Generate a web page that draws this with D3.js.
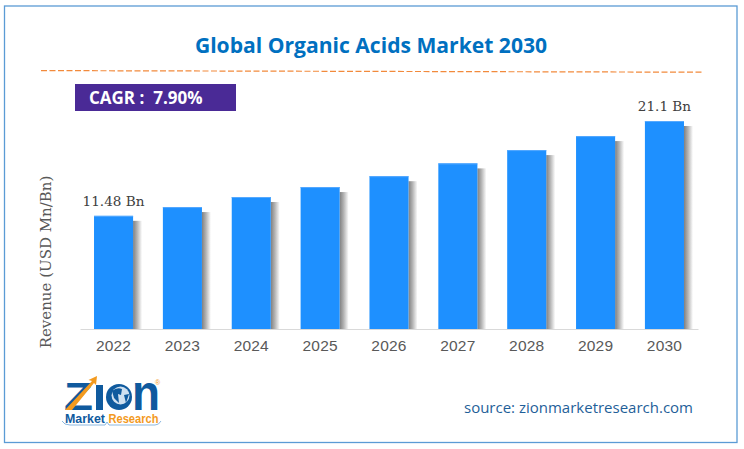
<!DOCTYPE html>
<html>
<head>
<meta charset="utf-8">
<script src="https://cdn.jsdelivr.net/npm/d3@7"></script>
<style>
  html, body { margin: 0; padding: 0; background: #fff; }
  svg { display: block; }
</style>
</head>
<body>
<svg id="chart" width="744" height="449"></svg>
<script>
const years = ["2022", "2023", "2024", "2025", "2026", "2027", "2028", "2029", "2030"];
const revenue = [11.48, 12.37, 13.39, 14.4, 15.5, 16.8, 18.15, 19.57, 21.1];
const barLabels = { "2022": "11.48 Bn", "2030": "21.1 Bn" };

const svg = d3.select("#chart");

const marginLeft = 80, marginRight = 46, baseline = 329, plotTop = 121;

const x = d3.scaleBand()
  .domain(years)
  .range([marginLeft, 744 - marginRight])
  .paddingInner(0.4327)
  .paddingOuter(0.2036);

const y = d3.scaleLinear()
  .domain([0, 21.1])
  .range([baseline, plotTop]);

// soft shadow on the right of each bar
const defs = svg.append("defs");
const shade = defs.append("linearGradient").attr("id", "shade");
shade.append("stop").attr("offset", "0%").attr("stop-color", "#808080");
shade.append("stop").attr("offset", "45%").attr("stop-color", "#b4b4b4");
shade.append("stop").attr("offset", "100%").attr("stop-color", "#fff");

// frame
svg.append("rect")
  .attr("x", 4.5).attr("y", 6)
  .attr("width", 732.5).attr("height", 436.5)
  .attr("fill", "#fff")
  .attr("stroke", "#5b9bd5")
  .attr("stroke-width", 1.3);

svg.append("text")
  .attr("x", 371).attr("y", 52.5)
  .attr("text-anchor", "middle")
  .attr("font-family", "'Open Sans'")
  .attr("font-weight", 700)
  .attr("font-size", 21.1)
  .attr("fill", "#0070c0")
  .text("Global Organic Acids Market 2030");

svg.append("line")
  .attr("x1", 41).attr("x2", 704)
  .attr("y1", 70.6).attr("y2", 72.2)
  .attr("stroke", "#f28a3c")
  .attr("stroke-width", 1.2)
  .attr("stroke-dasharray", "6 2.5");

svg.append("rect")
  .attr("x", 75).attr("y", 84)
  .attr("width", 161).attr("height", 27)
  .attr("fill", "#4a2a96");

svg.append("text")
  .attr("x", 89).attr("y", 104)
  .attr("font-family", "'Open Sans'")
  .attr("font-weight", 700)
  .attr("font-size", 17)
  .attr("fill", "#fff")
  .style("white-space", "pre")
  .text("CAGR :  7.90%");

// bars
const bars = svg.append("g");

bars.selectAll(".shadow")
  .data(years)
  .join("rect")
  .attr("class", "shadow")
  .attr("x", (d) => x(d) + x.bandwidth())
  .attr("y", (d, i) => y(revenue[i]) + 5)
  .attr("width", 9)
  .attr("height", (d, i) => baseline - y(revenue[i]) - 5)
  .attr("fill", "url(#shade)");

bars.selectAll(".bar")
  .data(years)
  .join("rect")
  .attr("class", "bar")
  .attr("x", (d) => x(d))
  .attr("y", (d, i) => y(revenue[i]))
  .attr("width", x.bandwidth())
  .attr("height", (d, i) => baseline - y(revenue[i]))
  .attr("fill", "#1e90ff");

// thin lighter edge along the top of each bar
bars.selectAll(".bar-top")
  .data(years)
  .join("rect")
  .attr("class", "bar-top")
  .attr("x", (d) => x(d))
  .attr("y", (d, i) => y(revenue[i]))
  .attr("width", x.bandwidth())
  .attr("height", 1)
  .attr("fill", "#55a9ff");

bars.selectAll(".bar-label")
  .data(years.filter((d) => barLabels[d]))
  .join("text")
  .attr("class", "bar-label")
  .attr("x", (d) => x(d) + x.bandwidth() / 2)
  .attr("y", (d) => y(revenue[years.indexOf(d)]) - 10)
  .attr("text-anchor", "middle")
  .attr("font-family", "'DejaVu Serif'")
  .attr("font-size", 13.6)
  .attr("fill", "#404040")
  .text((d) => barLabels[d]);

// x axis
const xAxis = svg.append("g")
  .attr("transform", `translate(0,${baseline})`)
  .call(d3.axisBottom(x).tickSize(0).tickPadding(11));

xAxis.select(".domain").attr("stroke", "#d9d9d9").attr("stroke-width", 1);
xAxis.selectAll("text")
  .attr("font-family", "'Liberation Sans'")
  .attr("font-size", 15.5)
  .attr("letter-spacing", 0.2)
  .attr("fill", "#595959");

svg.append("text")
  .attr("transform", "translate(51,262) rotate(-90)")
  .attr("text-anchor", "middle")
  .attr("font-family", "'DejaVu Serif'")
  .attr("font-size", 15)
  .attr("fill", "#595959")
  .text("Revenue (USD Mn/Bn)");

svg.append("text")
  .attr("x", 693).attr("y", 413)
  .attr("text-anchor", "end")
  .attr("font-family", "'Open Sans'")
  .attr("font-size", 15)
  .attr("fill", "#1f5f99")
  .text("source: zionmarketresearch.com");

// logo
const logo = svg.append("g").attr("font-family", "'Liberation Sans'");
logo.append("text")
  .attr("x", 64).attr("y", 410)
  .attr("font-size", 38).attr("font-weight", 700)
  .attr("fill", "#0f5a9e")
  .attr("textLength", 29).attr("lengthAdjust", "spacingAndGlyphs")
  .text("Z");
logo.append("path")
  .attr("d", "M65 410 L92 381 L88.5 380 L97 376 L96 385 L94 383 L72 410 Z")
  .attr("fill", "#f39a1e");
logo.append("rect")
  .attr("x", 96).attr("y", 385).attr("width", 7).attr("height", 25)
  .attr("fill", "#0f5a9e");
logo.append("circle")
  .attr("cx", 119).attr("cy", 397).attr("r", 13)
  .attr("fill", "#0f5a9e");
logo.append("circle")
  .attr("cx", 120.5).attr("cy", 395.5).attr("r", 9)
  .attr("fill", "#cfe0f0");
logo.append("path")
  .attr("d", "M112 391 Q117 387 122 389 L121 395 L118 394 L119 403 L114 398 Z M124 395 L129 394 L126 403 Z")
  .attr("fill", "#0f5a9e");
logo.append("text")
  .attr("x", 132).attr("y", 410)
  .attr("font-size", 50).attr("font-weight", 700)
  .attr("fill", "#0f5a9e")
  .attr("textLength", 28).attr("lengthAdjust", "spacingAndGlyphs")
  .text("n");
logo.append("text")
  .attr("x", 155).attr("y", 385)
  .attr("font-size", 7)
  .attr("fill", "#f39a1e")
  .text("®");
logo.append("text")
  .attr("x", 65).attr("y", 423)
  .attr("font-size", 12.5).attr("font-weight", 700)
  .attr("fill", "#0f5a9e")
  .attr("textLength", 40).attr("lengthAdjust", "spacingAndGlyphs")
  .text("Market");
logo.append("text")
  .attr("x", 108.5).attr("y", 423)
  .attr("font-size", 12.5).attr("font-weight", 700)
  .attr("fill", "#f39a1e")
  .attr("textLength", 50).attr("lengthAdjust", "spacingAndGlyphs")
  .text("Research");
logo.append("path")
  .attr("d", "M62 421 Q64 425 70 425 L105 425 L107 422 L109 425 L155 425 Q159 425 161 421")
  .attr("fill", "none")
  .attr("stroke", "#6ea6d8")
  .attr("stroke-width", 0.8);
</script>
</body>
</html>
